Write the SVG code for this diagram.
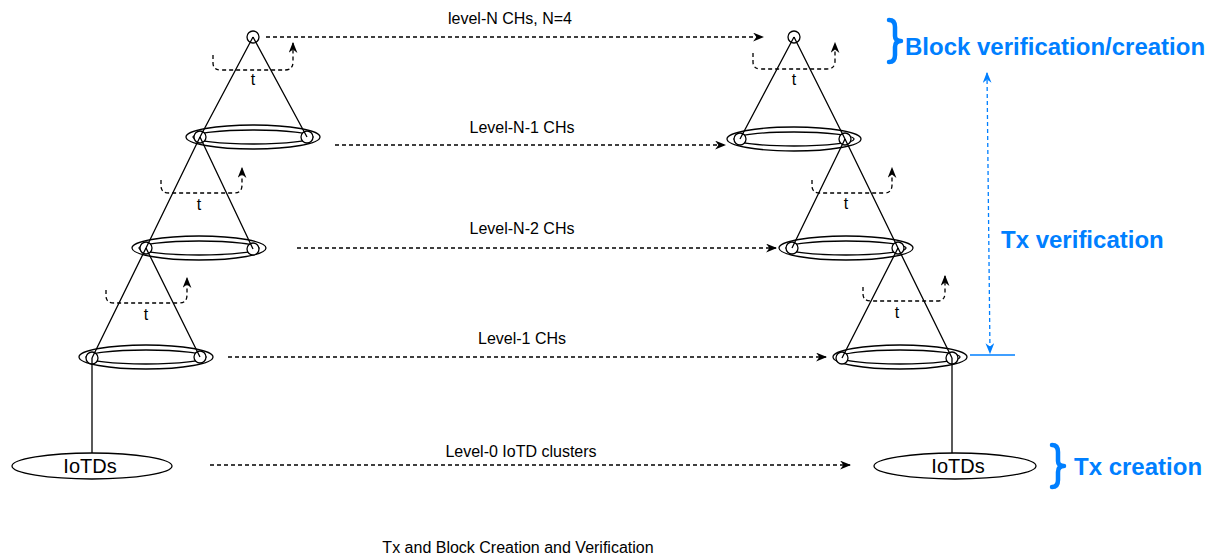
<svg xmlns="http://www.w3.org/2000/svg" width="1212" height="559" viewBox="0 0 1212 559">
  <style>
    .ln { stroke: #000; stroke-width: 1.3; fill: none; }
    .ring { stroke: #000; stroke-width: 1.3; fill: #fff; }
    .node { stroke: #000; stroke-width: 1.3; fill: #fff; }
    .dash { stroke: #000; stroke-width: 1.3; fill: none; stroke-dasharray: 4 3; }
    .lbl { font-family: "Liberation Sans", Arial, sans-serif; font-size: 16px; fill: #000; text-anchor: middle; }
    .big { font-family: "Liberation Sans", Arial, sans-serif; font-size: 20px; fill: #000; text-anchor: middle; }
    .blue { font-family: "Liberation Sans", Arial, sans-serif; font-size: 24px; font-weight: bold; fill: #007FFF; }
    .brace { stroke: #007FFF; stroke-width: 4.5; fill: none; stroke-linecap: round; stroke-linejoin: round; }
  </style>
  <defs>
    <marker id="arrow" viewBox="0 0 10 8" refX="9" refY="4" markerWidth="11" markerHeight="9" markerUnits="userSpaceOnUse" orient="auto">
      <path d="M0,0 L10,4 L0,8 L3,4 z" fill="#000"/>
    </marker>
    <marker id="arrowBlue" viewBox="0 0 10 8" refX="9" refY="4" markerWidth="11" markerHeight="9" markerUnits="userSpaceOnUse" orient="auto-start-reverse">
      <path d="M0,0 L10,4 L0,8 L3,4 z" fill="#007FFF"/>
    </marker>
  </defs>

  <!-- Left hierarchy -->
  <g id="left-ring-n1">
    <ellipse class="ring" cx="253" cy="137" rx="67" ry="12"/>
    <ellipse class="ring" cx="253" cy="137" rx="60" ry="7"/>
    <circle class="node" cx="200" cy="137" r="6"/>
    <circle class="node" cx="307" cy="137" r="6"/>
  </g>
  <g id="left-ring-n2">
    <ellipse class="ring" cx="199" cy="248" rx="67" ry="12"/>
    <ellipse class="ring" cx="199" cy="248" rx="60" ry="7"/>
    <circle class="node" cx="146" cy="248" r="6"/>
    <circle class="node" cx="253" cy="249" r="6"/>
  </g>
  <g id="left-ring-1">
    <ellipse class="ring" cx="146" cy="357" rx="67" ry="12"/>
    <ellipse class="ring" cx="146" cy="357" rx="60" ry="7"/>
    <circle class="node" cx="92" cy="358" r="6"/>
    <circle class="node" cx="200" cy="357" r="6"/>
  </g>
  <g id="left-top">
    <circle class="node" cx="253" cy="37" r="6"/>
  </g>
  <g id="left-iotds">
    <ellipse class="node" cx="92" cy="466" rx="80" ry="13"/>
    <text class="big" x="90" y="473">IoTDs</text>
  </g>

  <!-- Right hierarchy -->
  <g id="right-ring-n1">
    <ellipse class="ring" cx="794" cy="139" rx="67" ry="12"/>
    <ellipse class="ring" cx="794" cy="139" rx="60" ry="7"/>
    <circle class="node" cx="740" cy="139" r="6"/>
    <circle class="node" cx="845" cy="139" r="6"/>
  </g>
  <g id="right-ring-n2">
    <ellipse class="ring" cx="846" cy="248" rx="67" ry="12"/>
    <ellipse class="ring" cx="846" cy="248" rx="60" ry="7"/>
    <circle class="node" cx="792" cy="248" r="6"/>
    <circle class="node" cx="898" cy="248" r="6"/>
  </g>
  <g id="right-ring-1">
    <ellipse class="ring" cx="900" cy="357" rx="67" ry="12"/>
    <ellipse class="ring" cx="900" cy="357" rx="60" ry="7"/>
    <circle class="node" cx="842" cy="358" r="6"/>
    <circle class="node" cx="952" cy="358" r="6"/>
  </g>
  <g id="right-top">
    <circle class="node" cx="794" cy="37" r="6"/>
  </g>
  <g id="right-iotds">
    <ellipse class="node" cx="955" cy="466" rx="81" ry="13"/>
    <text class="big" x="958" y="473">IoTDs</text>
  </g>

  <!-- Connectors -->
  <g id="connectors">
    <!-- tree edges, left -->
    <path class="ln" d="M253,37 L200,137 M253,37 L307,137"/>
    <path class="ln" d="M200,137 L146,248 M200,137 L253,249"/>
    <path class="ln" d="M146,248 L92,358 M146,248 L200,357"/>
    <path class="ln" d="M92,358 V453"/>
    <!-- tree edges, right -->
    <path class="ln" d="M794,37 L740,139 M794,37 L845,139"/>
    <path class="ln" d="M845,139 L792,248 M845,139 L898,248"/>
    <path class="ln" d="M898,248 L842,358 M898,248 L952,358"/>
    <path class="ln" d="M952,358 V453"/>

    <!-- timing loops -->
    <path class="dash" marker-end="url(#arrow)" d="M213,55 V63 Q213,70 221,70 H285 Q293,70 293,62 V43"/>
    <path class="dash" marker-end="url(#arrow)" d="M161,180 V186 Q161,193 169,193 H234 Q242,193 242,185 V168"/>
    <path class="dash" marker-end="url(#arrow)" d="M106,290 V296 Q106,303 114,303 H179 Q187,303 187,295 V278"/>
    <path class="dash" marker-end="url(#arrow)" d="M753,53 V62 Q753,69 761,69 H827 Q835,69 835,61 V43"/>
    <path class="dash" marker-end="url(#arrow)" d="M812,180 V186 Q812,193 820,193 H884 Q892,193 892,185 V168"/>
    <path class="dash" marker-end="url(#arrow)" d="M863,287 V294 Q863,301 871,301 H937 Q945,301 945,293 V276"/>

    <!-- level arrows -->
    <path class="dash" marker-end="url(#arrow)" d="M266,37 H763"/>
    <path class="dash" marker-end="url(#arrow)" d="M335,145 H725"/>
    <path class="dash" marker-end="url(#arrow)" d="M297,248 H776"/>
    <path class="dash" marker-end="url(#arrow)" d="M228,357 H826"/>
    <path class="dash" marker-end="url(#arrow)" d="M210,465 H850"/>

    <!-- verification span -->
    <path d="M987,73 L990,353" stroke="#007FFF" stroke-width="1.3" stroke-dasharray="4 3" fill="none" marker-start="url(#arrowBlue)" marker-end="url(#arrowBlue)"/>
    <path d="M970,355 H1015" stroke="#007FFF" stroke-width="1.5" fill="none"/>
  </g>

  <!-- Level labels -->
  <text class="lbl" x="510" y="24">level-N CHs, N=4</text>
  <text class="lbl" x="522" y="133">Level-N-1 CHs</text>
  <text class="lbl" x="522" y="234">Level-N-2 CHs</text>
  <text class="lbl" x="522" y="344">Level-1 CHs</text>
  <text class="lbl" x="521" y="457">Level-0 IoTD clusters</text>

  <text class="lbl" x="253" y="85">t</text>
  <text class="lbl" x="199" y="210">t</text>
  <text class="lbl" x="146" y="320">t</text>
  <text class="lbl" x="794" y="85">t</text>
  <text class="lbl" x="846" y="209">t</text>
  <text class="lbl" x="897" y="318">t</text>

  <!-- Phase annotations -->
  <path class="brace" d="M889,20 Q895,20 895,27 V36 Q895,41 901,41 Q895,41 895,47 V55 Q895,62 889,62"/>
  <text class="blue" x="905" y="55">Block verification/creation</text>
  <text class="blue" x="1001" y="248">Tx verification</text>
  <path class="brace" d="M1052,445 Q1058,445 1058,452 V461 Q1058,466 1064,466 Q1058,466 1058,472 V480 Q1058,487 1052,487"/>
  <text class="blue" x="1074" y="475">Tx creation</text>

  <text class="lbl" x="518" y="553">Tx and Block Creation and Verification</text>
</svg>
